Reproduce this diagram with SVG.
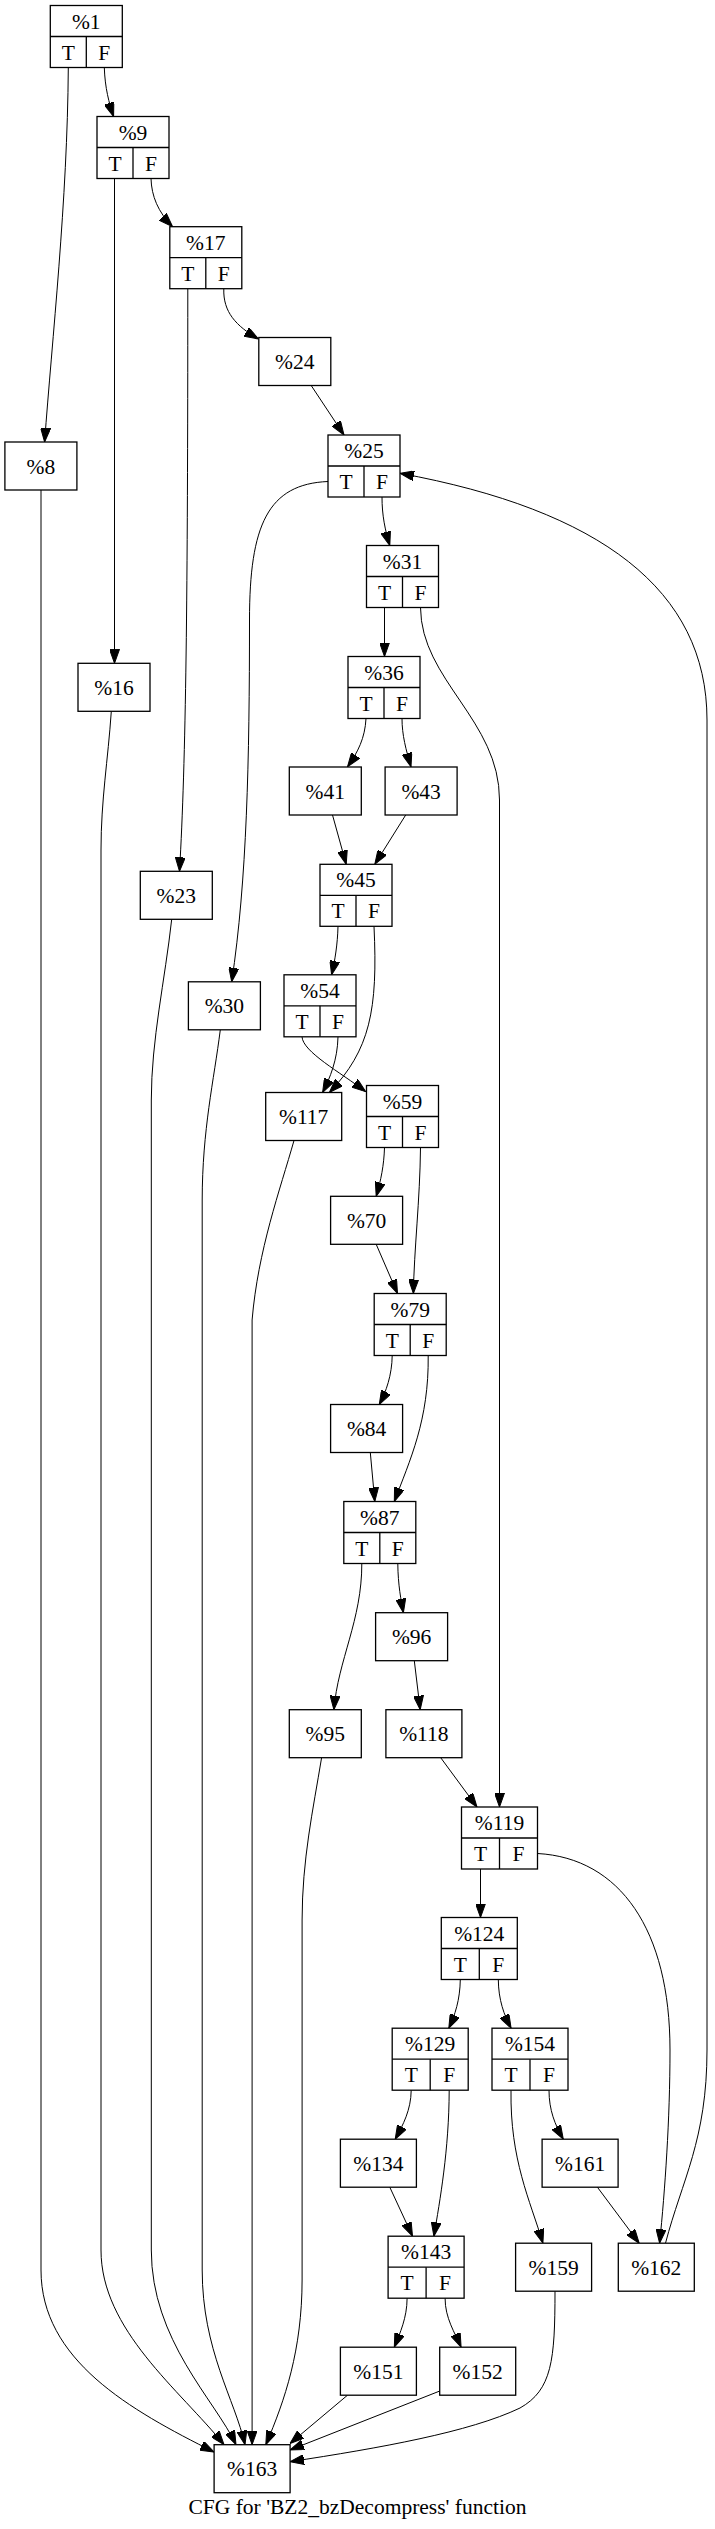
<svg xmlns="http://www.w3.org/2000/svg" width="715" height="2529" viewBox="0 0 715 2529">
<style>
.n rect{fill:#fff;stroke:#000;stroke-width:1.3}
.n line{stroke:#000;stroke-width:1.3}
text{font-family:"Liberation Serif","Times New Roman",serif;font-size:21.5px;text-anchor:middle;fill:#000}
.e path{fill:none;stroke:#000;stroke-width:1;marker-end:url(#ah)}
</style>
<defs>
<marker id="ah" viewBox="0 0 14 10" refX="14" refY="5" markerWidth="14" markerHeight="10" markerUnits="userSpaceOnUse" orient="auto"><path d="M0,0 L14,5 L0,10 z" fill="#000" stroke="#000" stroke-width="1"/></marker>
</defs>
<rect x="0" y="0" width="715" height="2529" fill="#fff"/>
<g class="e" id="edges">
<path d="M68.3,67.5 C67.5,200 52,340 44.6,442"/>
<path d="M104.3,67.5 C105,88 109,103 113.6,116.5"/>
<path d="M114.5,178.5 L114.5,663.3"/>
<path d="M151,178.5 C151.5,196 158,212 172.6,226.7"/>
<path d="M187.8,288.7 C187.8,600 186,760 179.5,871.3"/>
<path d="M223.8,288.7 C223,312 236,326 258.5,339"/>
<path d="M311.2,385.5 L344,435"/>
<path d="M328,481.5 C268,484 249.5,525 249.5,620 C249.5,760 247,880 231.7,981.8"/>
<path d="M382,497 C382,515 385,530 389.8,545.5"/>
<path d="M665.5,2243.2 C682,2180 707,2140 707,2050 L707,720 C707,590 600,510 400,473.3"/>
<path d="M384.5,607.5 L384.5,656.5"/>
<path d="M420.5,607.5 C421,680 499.5,720 499.5,800 L499.5,1807"/>
<path d="M366,718.5 C365,738 358,752 347.5,766.8"/>
<path d="M402,718.5 C402,735 406,750 411,766.8"/>
<path d="M332.5,815 L346.2,864.3"/>
<path d="M405.7,815 L374.8,864.3"/>
<path d="M338,926.3 C337.5,945 335,960 331.6,974.8"/>
<path d="M374,926.3 C378,1010 370,1050 329.4,1092.5"/>
<path d="M302,1036.8 C303,1052 340,1072 365.7,1091.7"/>
<path d="M338,1036.8 C337.5,1060 330,1078 322.6,1092.5"/>
<path d="M384.5,1147.5 C384,1165 381,1180 376.2,1196.3"/>
<path d="M420.5,1147.5 C420,1200 414,1250 413.4,1293.5"/>
<path d="M376.2,1244.3 L397.5,1293.5"/>
<path d="M392.2,1355.5 C392,1375 386,1392 379.3,1404.5"/>
<path d="M428.2,1355.5 C429,1420 410,1460 394.3,1501.5"/>
<path d="M370.3,1452.5 L374.8,1501.5"/>
<path d="M361.8,1563.5 C362,1620 338,1660 333.9,1709.7"/>
<path d="M397.8,1563.5 C398,1585 401,1600 403.4,1612.7"/>
<path d="M414.3,1660.7 L420.2,1709.7"/>
<path d="M440.7,1757.7 L477,1807"/>
<path d="M480.5,1869 L480.5,1917.5"/>
<path d="M537.5,1853.5 C620,1858 670,1930 670,2050 C670,2120 665,2190 659.6,2243.2"/>
<path d="M460.3,1979.5 C460,2000 455,2015 448.8,2028.2"/>
<path d="M498.3,1979.5 C498.5,2000 504,2015 511.1,2028.2"/>
<path d="M411.2,2090.2 C411,2110 403,2125 395.2,2139.2"/>
<path d="M449.2,2090.2 C449,2150 440,2200 433.9,2236.2"/>
<path d="M389.8,2187.2 L412.5,2236.2"/>
<path d="M511,2090.2 C510,2160 530,2200 542.9,2243.2"/>
<path d="M549,2090.2 C549,2110 555,2125 563.3,2139.2"/>
<path d="M597.4,2187.2 L639.2,2243.2"/>
<path d="M407.1,2298.2 C407,2318 400,2333 394.3,2347.2"/>
<path d="M445.1,2298.2 C445,2318 455,2333 461.1,2347.2"/>
<path d="M41,490 L41,2270 C41,2360 130,2410 214.1,2452"/>
<path d="M111.3,711.3 C108,760 101,800 101,850 L101,2250 C101,2330 180,2390 224,2444.7"/>
<path d="M171.7,919.3 C165,980 151.3,1040 151.3,1100 L151.3,2250 C151.3,2340 215,2400 236,2444.7"/>
<path d="M220.3,1029.8 C214,1080 202.2,1130 202.2,1200 L202.2,2270 C202.2,2350 235,2400 245,2444.7"/>
<path d="M294,1140.5 C280,1190 258,1250 252.1,1320 L252.1,2444.7"/>
<path d="M321.6,1757.7 C313,1810 302.1,1860 302.1,1920 L302.1,2280 C302,2350 285,2400 265.8,2444.7"/>
<path d="M347.5,2395.2 L290,2443.5"/>
<path d="M439.8,2391 L290,2450"/>
<path d="M555,2291.2 C555,2360 552,2390 520,2408 C470,2432 380,2448 290,2461.7"/>
</g>
<g class="n" id="n1"><rect x="50.3" y="5.5" width="72" height="62"/><line x1="50.3" y1="36.5" x2="122.3" y2="36.5"/><line x1="86.3" y1="36.5" x2="86.3" y2="67.5"/><text x="86.3" y="28.5">%1</text><text x="68.3" y="59.5">T</text><text x="104.3" y="59.5">F</text></g>
<g class="n" id="n9"><rect x="97" y="116.5" width="72" height="62"/><line x1="97" y1="147.5" x2="169" y2="147.5"/><line x1="133" y1="147.5" x2="133" y2="178.5"/><text x="133" y="139.5">%9</text><text x="115" y="170.5">T</text><text x="151" y="170.5">F</text></g>
<g class="n" id="n17"><rect x="169.8" y="226.7" width="72" height="62"/><line x1="169.8" y1="257.7" x2="241.8" y2="257.7"/><line x1="205.8" y1="257.7" x2="205.8" y2="288.7"/><text x="205.8" y="249.7">%17</text><text x="187.8" y="280.7">T</text><text x="223.8" y="280.7">F</text></g>
<g class="n" id="n24"><rect x="258.8" y="337.5" width="72" height="48"/><text x="294.8" y="369">%24</text></g>
<g class="n" id="n8"><rect x="4.9" y="442" width="72" height="48"/><text x="40.9" y="473.5">%8</text></g>
<g class="n" id="n25"><rect x="328" y="435" width="72" height="62"/><line x1="328" y1="466" x2="400" y2="466"/><line x1="364" y1="466" x2="364" y2="497"/><text x="364" y="458">%25</text><text x="346" y="489">T</text><text x="382" y="489">F</text></g>
<g class="n" id="n31"><rect x="366.5" y="545.5" width="72" height="62"/><line x1="366.5" y1="576.5" x2="438.5" y2="576.5"/><line x1="402.5" y1="576.5" x2="402.5" y2="607.5"/><text x="402.5" y="568.5">%31</text><text x="384.5" y="599.5">T</text><text x="420.5" y="599.5">F</text></g>
<g class="n" id="n16"><rect x="78" y="663.3" width="72" height="48"/><text x="114" y="694.8">%16</text></g>
<g class="n" id="n36"><rect x="348" y="656.5" width="72" height="62"/><line x1="348" y1="687.5" x2="420" y2="687.5"/><line x1="384" y1="687.5" x2="384" y2="718.5"/><text x="384" y="679.5">%36</text><text x="366" y="710.5">T</text><text x="402" y="710.5">F</text></g>
<g class="n" id="n41"><rect x="289.3" y="767" width="72" height="48"/><text x="325.3" y="798.5">%41</text></g>
<g class="n" id="n43"><rect x="385.1" y="767" width="72" height="48"/><text x="421.1" y="798.5">%43</text></g>
<g class="n" id="n23"><rect x="140.3" y="871.3" width="72" height="48"/><text x="176.3" y="902.8">%23</text></g>
<g class="n" id="n45"><rect x="320" y="864.3" width="72" height="62"/><line x1="320" y1="895.3" x2="392" y2="895.3"/><line x1="356" y1="895.3" x2="356" y2="926.3"/><text x="356" y="887.3">%45</text><text x="338" y="918.3">T</text><text x="374" y="918.3">F</text></g>
<g class="n" id="n30"><rect x="188.4" y="981.8" width="72" height="48"/><text x="224.4" y="1013.3">%30</text></g>
<g class="n" id="n54"><rect x="284" y="974.8" width="72" height="62"/><line x1="284" y1="1005.8" x2="356" y2="1005.8"/><line x1="320" y1="1005.8" x2="320" y2="1036.8"/><text x="320" y="997.8">%54</text><text x="302" y="1028.8">T</text><text x="338" y="1028.8">F</text></g>
<g class="n" id="n117"><rect x="265.7" y="1092.5" width="76" height="48"/><text x="303.7" y="1124">%117</text></g>
<g class="n" id="n59"><rect x="366.5" y="1085.5" width="72" height="62"/><line x1="366.5" y1="1116.5" x2="438.5" y2="1116.5"/><line x1="402.5" y1="1116.5" x2="402.5" y2="1147.5"/><text x="402.5" y="1108.5">%59</text><text x="384.5" y="1139.5">T</text><text x="420.5" y="1139.5">F</text></g>
<g class="n" id="n70"><rect x="330.6" y="1196.3" width="72" height="48"/><text x="366.6" y="1227.8">%70</text></g>
<g class="n" id="n79"><rect x="374.2" y="1293.5" width="72" height="62"/><line x1="374.2" y1="1324.5" x2="446.2" y2="1324.5"/><line x1="410.2" y1="1324.5" x2="410.2" y2="1355.5"/><text x="410.2" y="1316.5">%79</text><text x="392.2" y="1347.5">T</text><text x="428.2" y="1347.5">F</text></g>
<g class="n" id="n84"><rect x="330.6" y="1404.5" width="72" height="48"/><text x="366.6" y="1436">%84</text></g>
<g class="n" id="n87"><rect x="343.8" y="1501.5" width="72" height="62"/><line x1="343.8" y1="1532.5" x2="415.8" y2="1532.5"/><line x1="379.8" y1="1532.5" x2="379.8" y2="1563.5"/><text x="379.8" y="1524.5">%87</text><text x="361.8" y="1555.5">T</text><text x="397.8" y="1555.5">F</text></g>
<g class="n" id="n96"><rect x="375.6" y="1612.7" width="72" height="48"/><text x="411.6" y="1644.2">%96</text></g>
<g class="n" id="n95"><rect x="289.3" y="1709.7" width="72" height="48"/><text x="325.3" y="1741.2">%95</text></g>
<g class="n" id="n118"><rect x="385.9" y="1709.7" width="76" height="48"/><text x="423.9" y="1741.2">%118</text></g>
<g class="n" id="n119"><rect x="461.5" y="1807" width="76" height="62"/><line x1="461.5" y1="1838" x2="537.5" y2="1838"/><line x1="499.5" y1="1838" x2="499.5" y2="1869"/><text x="499.5" y="1830">%119</text><text x="480.5" y="1861">T</text><text x="518.5" y="1861">F</text></g>
<g class="n" id="n124"><rect x="441.3" y="1917.5" width="76" height="62"/><line x1="441.3" y1="1948.5" x2="517.3" y2="1948.5"/><line x1="479.3" y1="1948.5" x2="479.3" y2="1979.5"/><text x="479.3" y="1940.5">%124</text><text x="460.3" y="1971.5">T</text><text x="498.3" y="1971.5">F</text></g>
<g class="n" id="n129"><rect x="392.2" y="2028.2" width="76" height="62"/><line x1="392.2" y1="2059.2" x2="468.2" y2="2059.2"/><line x1="430.2" y1="2059.2" x2="430.2" y2="2090.2"/><text x="430.2" y="2051.2">%129</text><text x="411.2" y="2082.2">T</text><text x="449.2" y="2082.2">F</text></g>
<g class="n" id="n154"><rect x="492" y="2028.2" width="76" height="62"/><line x1="492" y1="2059.2" x2="568" y2="2059.2"/><line x1="530" y1="2059.2" x2="530" y2="2090.2"/><text x="530" y="2051.2">%154</text><text x="511" y="2082.2">T</text><text x="549" y="2082.2">F</text></g>
<g class="n" id="n134"><rect x="340.4" y="2139.2" width="76" height="48"/><text x="378.4" y="2170.7">%134</text></g>
<g class="n" id="n161"><rect x="542.1" y="2139.2" width="76" height="48"/><text x="580.1" y="2170.7">%161</text></g>
<g class="n" id="n143"><rect x="388.1" y="2236.2" width="76" height="62"/><line x1="388.1" y1="2267.2" x2="464.1" y2="2267.2"/><line x1="426.1" y1="2267.2" x2="426.1" y2="2298.2"/><text x="426.1" y="2259.2">%143</text><text x="407.1" y="2290.2">T</text><text x="445.1" y="2290.2">F</text></g>
<g class="n" id="n159"><rect x="515.6" y="2243.2" width="76" height="48"/><text x="553.6" y="2274.7">%159</text></g>
<g class="n" id="n162"><rect x="618.3" y="2243.2" width="76" height="48"/><text x="656.3" y="2274.7">%162</text></g>
<g class="n" id="n151"><rect x="340.4" y="2347.2" width="76" height="48"/><text x="378.4" y="2378.7">%151</text></g>
<g class="n" id="n152"><rect x="439.7" y="2347.2" width="76" height="48"/><text x="477.7" y="2378.7">%152</text></g>
<g class="n" id="n163"><rect x="214.1" y="2444.7" width="76" height="48"/><text x="252.1" y="2476.2">%163</text></g>
<text id="caption" x="357.5" y="2514">CFG for 'BZ2_bzDecompress' function</text>
</svg>
